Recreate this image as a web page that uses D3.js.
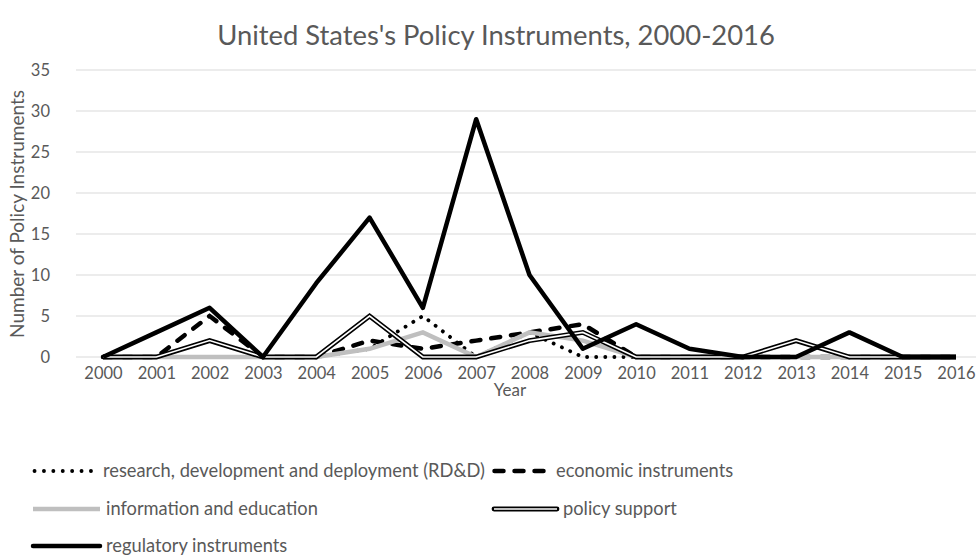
<!DOCTYPE html>
<html><head><meta charset="utf-8">
<script src="https://cdn.jsdelivr.net/npm/d3@7"></script>
<style>body{margin:0;background:#fff}svg{display:block}text{font-family:Lato,sans-serif;fill:#595959}</style>
</head><body><svg id="c" width="976" height="556"></svg>
<script>
const years = ["2000","2001","2002","2003","2004","2005","2006","2007","2008","2009","2010","2011","2012","2013","2014","2015","2016"];
const rdd        = [0,0,0,0,0,1,5,0,3,0,0,0,0,0,0,0,0];
const economic   = [0,0,5,0,0,2,1,2,3,4,0,0,0,0,0,0,0];
const infoEdu    = [0,0,0,0,0,1,3,0,3,2,0,0,0,0,0,0,0];
const policySup  = [0,0,2,0,0,5,0,0,2,3,0,0,0,2,0,0,0];
const regulatory = [0,3,6,0,9,17,6,29,10,1,4,1,0,0,3,0,0];
const yTicks = [0,5,10,15,20,25,30,35];
const seriesNames = ["research, development and deployment (RD&D)","economic instruments","information and education","policy support","regulatory instruments"];

const FONT = "Lato";
const svg = d3.select("#c");
const x = d3.scalePoint().domain(years).range([103,956]);
const y = d3.scaleLinear().domain([0,35]).range([357,70]);

svg.append("g").selectAll("line").data(yTicks).join("line")
  .attr("x1",76).attr("x2",976).attr("y1",d=>y(d)).attr("y2",d=>y(d))
  .attr("stroke","#d9d9d9").attr("stroke-width",1);

const ya = svg.append("g").attr("transform","translate(50,0)")
  .call(d3.axisLeft(y).tickValues(yTicks).tickSize(0).tickPadding(0));
ya.select(".domain").remove();
ya.attr("font-family",FONT).attr("font-size",16.5);
ya.selectAll("text").style("fill","#595959");

const xa = svg.append("g").attr("transform","translate(0,373)")
  .call(d3.axisBottom(x).tickSize(0).tickPadding(0));
xa.select(".domain").remove();
xa.attr("font-family",FONT).attr("font-size",16.5);
xa.selectAll("text").attr("dy","0.35em").style("fill","#595959");

svg.append("text").attr("x",496).attr("y",35).attr("dy","0.35em").attr("text-anchor","middle").attr("font-size",27.4).text("United States's Policy Instruments, 2000-2016");
svg.append("text").attr("x",510).attr("y",390).attr("dy","0.35em").attr("text-anchor","middle").attr("font-size",17).text("Year");
svg.append("text").attr("transform","translate(17,214) rotate(-90)").attr("dy","0.35em").attr("text-anchor","middle").attr("font-size",19).text("Number of Policy Instruments");

const line = d3.line().x((d,i)=>x(years[i])).y(d=>y(d));
const g = svg.append("g").attr("fill","none").attr("stroke-linejoin","miter");
g.append("path").datum(rdd).attr("d",line).attr("stroke","#000").attr("stroke-width",3.8).attr("stroke-linecap","round").attr("stroke-dasharray","0.1 9");
g.append("path").datum(economic).attr("d",line).attr("stroke","#000").attr("stroke-width",4.5).attr("stroke-linecap","round").attr("stroke-dasharray","9 11");
g.append("path").datum(infoEdu).attr("d",line).attr("stroke","#bfbfbf").attr("stroke-width",4.5);
g.append("path").datum(policySup).attr("d",line).attr("stroke","#000").attr("stroke-width",4.8);
g.append("path").datum(policySup).attr("d",line).attr("stroke","#fff").attr("stroke-width",1.6);
g.append("path").datum(regulatory).attr("d",line).attr("stroke","#000").attr("stroke-width",4.5).attr("stroke-linejoin","round");

const lg = svg.append("g");
const legendItems = [
  {name:seriesNames[0], x:33, y:471, w:64, style:"dot"},
  {name:seriesNames[1], x:492, y:471, w:58, style:"dash"},
  {name:seriesNames[2], x:33, y:509, w:67, style:"gray"},
  {name:seriesNames[3], x:494, y:509, w:63, style:"double"},
  {name:seriesNames[4], x:33, y:546, w:67, style:"solid"}
];
legendItems.forEach(it=>{
  const ln = ()=>lg.append("line").attr("x1",it.x).attr("x2",it.x+it.w).attr("y1",it.y).attr("y2",it.y);
  if(it.style==="dot") ln().attr("stroke","#000").attr("stroke-width",3.8).attr("stroke-linecap","round").attr("stroke-dasharray","0.1 9.3").attr("x1",it.x+1.5);
  else if(it.style==="dash") ln().attr("stroke","#000").attr("stroke-width",4.5).attr("stroke-linecap","round").attr("stroke-dasharray","9 11").attr("x1",it.x+2.5);
  else if(it.style==="gray") ln().attr("stroke","#bfbfbf").attr("stroke-width",4.5);
  else if(it.style==="double"){ ln().attr("stroke","#000").attr("stroke-width",4.8).attr("stroke-linecap","round"); ln().attr("stroke","#fff").attr("stroke-width",1.6);}
  else ln().attr("stroke","#000").attr("stroke-width",4.5).attr("stroke-linecap","round");
  lg.append("text").attr("x",it.x+it.w+6).attr("y",it.y).attr("dy","0.35em").attr("font-size",18.3).text(it.name);
});
</script></body></html>
